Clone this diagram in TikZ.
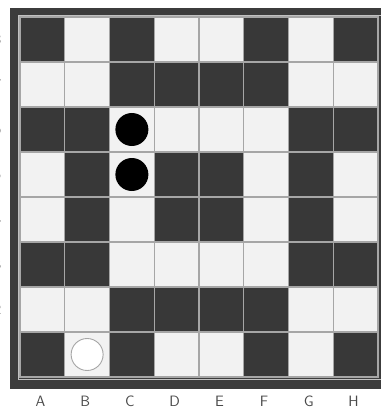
\documentclass[tikz,border=0pt]{standalone}
\definecolor{darksq}{HTML}{383838}
\definecolor{lightsq}{HTML}{F2F2F2}
\definecolor{gridgray}{HTML}{A6A6A6}
\definecolor{framec}{HTML}{3C3C3C}
\definecolor{lblc}{HTML}{4A4A4A}
\begin{document}
\begin{tikzpicture}[x=1pt,y=-1pt,
  cell/.style={draw=gridgray, line width=1.3pt, minimum width=44.75pt, minimum height=45pt, inner sep=0pt, outer sep=0pt},
  dark/.style={cell, fill=darksq},
  light/.style={cell, fill=lightsq},
  blackdisc/.style={circle, fill=black, minimum size=33pt, inner sep=0pt},
  whitedisc/.style={circle, fill=white, draw=gridgray, line width=0.9pt, minimum size=32pt, inner sep=0pt},
  lbl/.style={font=\sffamily\fontsize{15pt}{15pt}\selectfont, text=lblc, inner sep=0pt}]
\useasboundingbox (0,0) rectangle (380,409);
\fill[white] (0,0) rectangle (380,409);
% frame
\fill[framec] (10,8) rectangle (392,388.5);
\draw[gridgray!70, line width=0.8pt] (18.2,15.2) rectangle (392,379.3);
% squares
\foreach \row [count=\r] in {{1,0,1,0,0,1,0,1},{0,0,1,1,1,1,0,0},{1,1,0,0,0,0,1,1},{0,1,0,1,1,0,1,0},{0,1,0,1,1,0,1,0},{1,1,0,0,0,0,1,1},{0,0,1,1,1,1,0,0},{1,0,1,0,0,1,0,1}}{
  \foreach \v [count=\c] in \row {
    \ifnum\v=1
      \node[dark] (sq-\c-\r) at ({20+(\c-0.5)*44.75},{17+(\r-0.5)*45}) {};
    \else
      \node[light] (sq-\c-\r) at ({20+(\c-0.5)*44.75},{17+(\r-0.5)*45}) {};
    \fi
  }
}
% pieces
\node[blackdisc] (c6) at (sq-3-3) {};
\node[blackdisc] (c5) at (sq-3-4) {};
\node[whitedisc] (b1) at (sq-2-8) {};
% column labels
\foreach \L [count=\c] in {A,B,C,D,E,F,G,H}{
  \node[lbl, anchor=base] (col-\L) at ({18+(\c-0.5)*44.75},406.5) {\L};
}
% row labels (clipped at the left edge)
\foreach \n [count=\r] in {8,7,6,5,4,3,2,1}{
  \node[lbl] (row-\n) at (-2.5,{17+(\r-0.5)*45}) {\n};
}
\end{tikzpicture}
\end{document}
